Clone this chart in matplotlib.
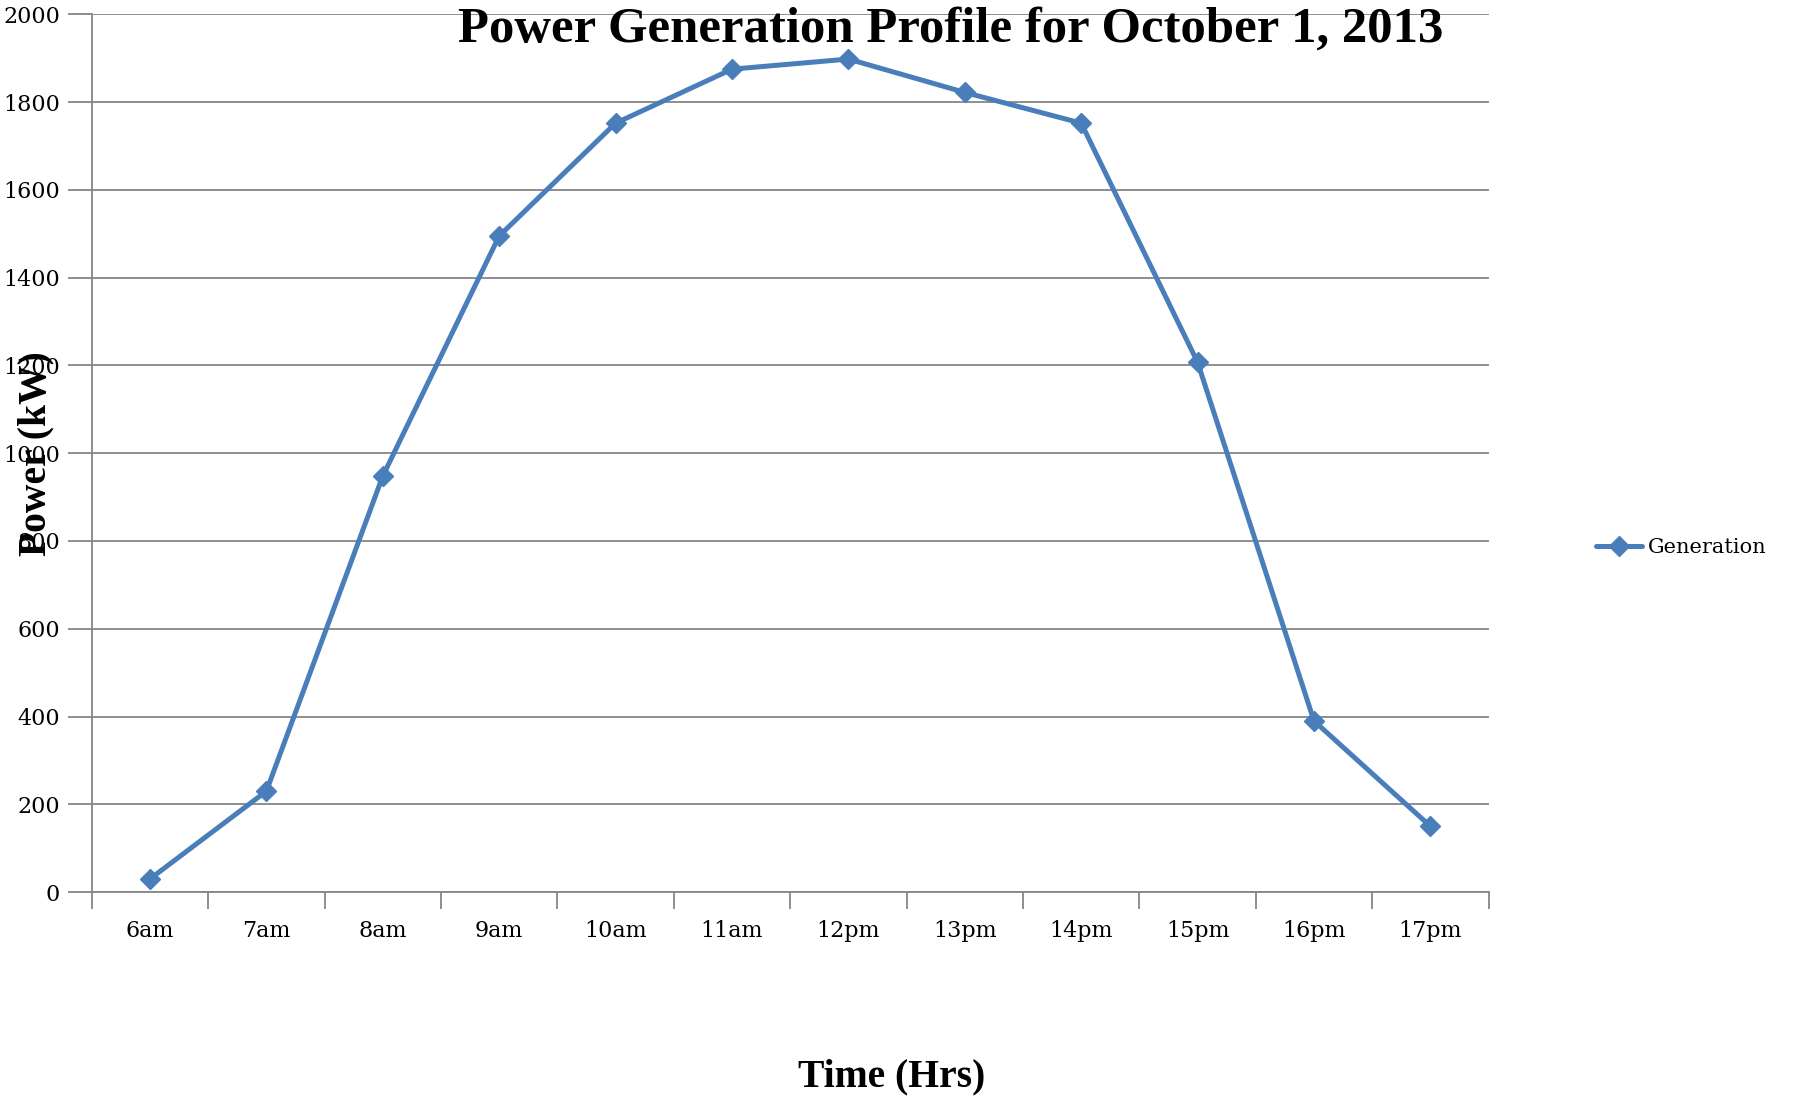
import matplotlib
matplotlib.use("Agg")
import matplotlib.pyplot as plt
from matplotlib.ticker import FixedLocator, NullFormatter, FixedFormatter

categories = ["6am", "7am", "8am", "9am", "10am", "11am", "12pm", "13pm", "14pm", "15pm", "16pm", "17pm"]
generation = [30, 230, 948, 1495, 1752, 1875, 1898, 1822, 1752, 1207, 390, 150]
y_ticks = [0, 200, 400, 600, 800, 1000, 1200, 1400, 1600, 1800, 2000]

plt.rcParams['font.family'] = ['Liberation Serif', 'DejaVu Serif']
tick_font = ['DejaVu Serif']

blue = "#4A7EBB"
grey = "#868686"

fig = plt.figure(figsize=(18, 11), dpi=100)
ax = fig.add_axes([0.051, 0.189, 0.776, 0.798])

x = list(range(len(categories)))
ax.plot(x, generation, color=blue, linewidth=3.6, marker="D", markersize=10,
        markeredgecolor=blue, markerfacecolor=blue, label="Generation",
        solid_joinstyle="round", solid_capstyle="round", clip_on=False, zorder=3)

ax.set_xlim(-0.5, len(categories) - 0.5)
ax.set_ylim(0, 2000)

ax.yaxis.set_major_locator(FixedLocator(y_ticks))
ax.set_yticklabels([str(v) for v in y_ticks], family=tick_font)
ax.grid(axis="y", color=grey, linewidth=1.3)
ax.set_axisbelow(True)

ax.xaxis.set_major_locator(FixedLocator([i - 0.5 for i in range(len(categories) + 1)]))
ax.xaxis.set_major_formatter(NullFormatter())
ax.xaxis.set_minor_locator(FixedLocator(x))
ax.xaxis.set_minor_formatter(FixedFormatter(categories))
ax.tick_params(axis="x", which="minor", length=0, pad=20, labelsize=16)
ax.tick_params(axis="x", which="major", length=12, width=1.3, color=grey)
ax.tick_params(axis="y", length=17, width=1.3, color=grey, labelsize=16, pad=6)
for lbl in ax.xaxis.get_minorticklabels():
    lbl.set_family(tick_font)

for s in ["top", "right"]:
    ax.spines[s].set_visible(False)
for s in ["left", "bottom"]:
    ax.spines[s].set_color(grey)
    ax.spines[s].set_linewidth(1.3)

fig.text(0.528, 0.973, "Power Generation Profile for October 1, 2013", ha="center", va="center",
         fontsize=36.5, fontweight="bold")
fig.text(0.020, 0.588, "Power (kW)", ha="center", va="center", rotation=90,
         fontsize=28.5, fontweight="bold")
fig.text(0.4955, 0.021, "Time (Hrs)", ha="center", va="center",
         fontsize=28.5, fontweight="bold")

leg = fig.legend(loc="center left", bbox_to_anchor=(0.8867, 0.502), frameon=False,
                 prop={'family': tick_font, 'size': 15},
                 handlelength=2.2, handletextpad=0.3, borderpad=0, borderaxespad=0)

fig.savefig("out.png", dpi=100)
